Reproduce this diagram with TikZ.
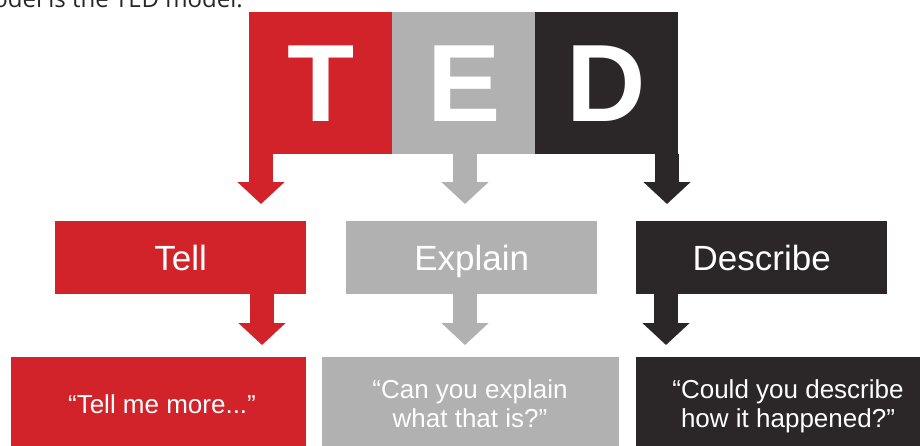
\documentclass[tikz,border=0pt]{standalone}
\usepackage{fontspec}
\setmainfont{Liberation Sans}
\newfontfamily\headfont{Open Sans}
\usetikzlibrary{arrows.meta}
\definecolor{tedred}{HTML}{D2232A}
\definecolor{tedgray}{HTML}{B1B1B1}
\definecolor{tedblack}{HTML}{2B2728}
\begin{document}
\begin{tikzpicture}[x=1pt,y=-1pt,
  letter/.style={minimum width=143pt, minimum height=142pt, inner sep=0pt, text=white,
    font=\fontsize{110}{110}\selectfont\bfseries, anchor=north west},
  midbox/.style={minimum width=251pt, minimum height=73pt, inner sep=0pt, text=white,
    text height=25pt, text depth=0pt, font=\fontsize{35}{40}\selectfont, anchor=north west},
  quotebox/.style={minimum height=100pt, inner sep=0pt, anchor=north west},
  quotetext/.style={text=white, align=center, inner sep=0pt, text depth=0pt,
    font=\fontsize{26}{29}\selectfont},
  fatarrow/.style={line width=24pt, -{Triangle[width=46pt,length=22pt]}}
]
\useasboundingbox (0,0) rectangle (920,445);
\clip (0,0) rectangle (920,445);
\fill[white] (0,0) rectangle (920,445);
% cut-off heading
\node[anchor=base east, inner sep=0pt, font=\headfont\fontsize{24}{24}\selectfont, text=black!85] (head) at (243,7) {model is the TED model.};
% top letters
\node[letter, fill=tedred] (T) at (249,12) {T};
\node[letter, fill=tedgray] (E) at (392,12) {E};
\node[letter, fill=tedblack] (D) at (535,12) {D};
% middle boxes
\node[midbox, fill=tedred] (tell) at (55,221) {Tell};
\node[midbox, fill=tedgray] (explain) at (346,221) {Explain};
\node[midbox, fill=tedblack] (describe) at (636,221) {Describe};
% bottom boxes
\node[quotebox, fill=tedred, minimum width=295pt] (q1) at (11,357) {};
\node[quotebox, fill=tedgray, minimum width=297pt] (q2) at (322,357) {};
\node[quotebox, fill=tedblack, minimum width=300pt] (q3) at (636,357) {};
\node[quotetext] (q1t) at (162,404) {“Tell me more...”};
\node[quotetext] (q2t) at (470,404) {“Can you explain\\what that is?”};
\node[quotetext] (q3t) at (788,404) {“Could you describe\\how it happened?”};
% arrow targets
\coordinate (a1) at (261,204);
\coordinate (a2) at (465,204);
\coordinate (a3) at (667,204);
\coordinate (b1) at (262,345);
\coordinate (b2) at (465,345);
\coordinate (b3) at (666,345);
\draw[fatarrow, draw=tedred, fill=tedred] (T.south -| a1) -- (a1);
\draw[fatarrow, draw=tedgray, fill=tedgray] (E.south -| a2) -- (a2);
\draw[fatarrow, draw=tedblack, fill=tedblack] (D.south -| a3) -- (a3);
\draw[fatarrow, draw=tedred, fill=tedred] (tell.south -| b1) -- (b1);
\draw[fatarrow, draw=tedgray, fill=tedgray] (explain.south -| b2) -- (b2);
\draw[fatarrow, draw=tedblack, fill=tedblack] (describe.south -| b3) -- (b3);
\end{tikzpicture}
\end{document}
